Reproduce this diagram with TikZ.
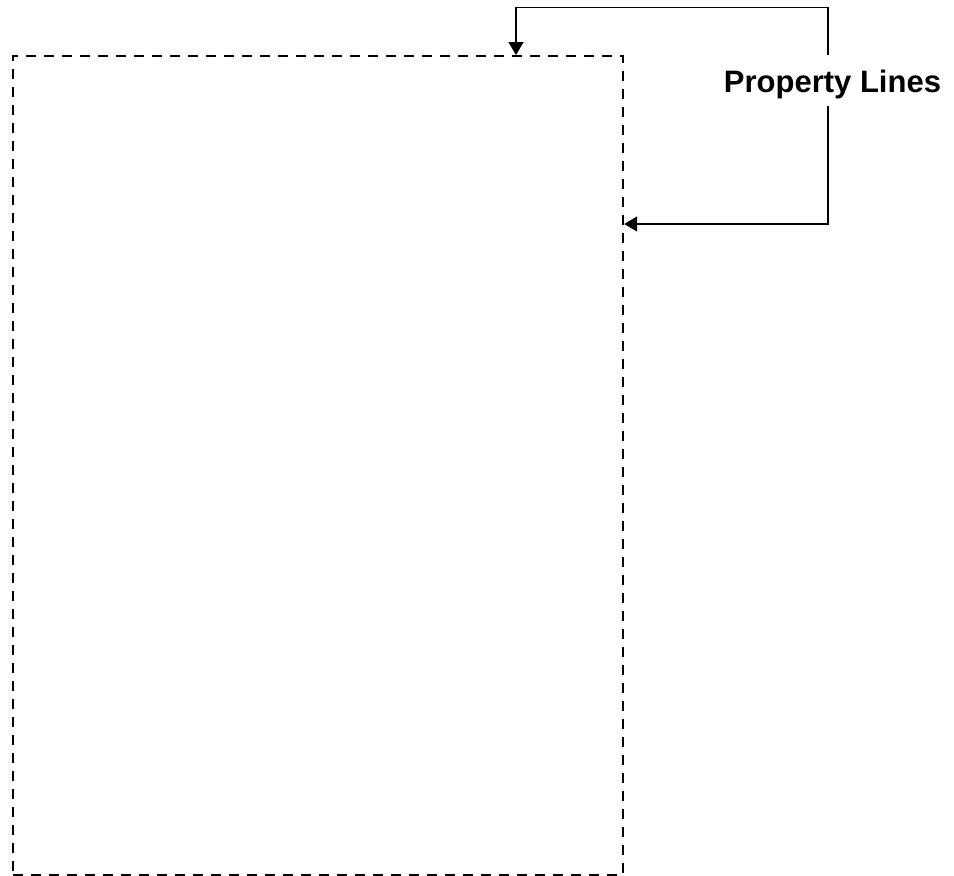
\documentclass[tikz,border=0pt]{standalone}
\usepackage{fontspec}
\setmainfont{Liberation Sans}
\usetikzlibrary{arrows.meta}
\begin{document}
\begin{tikzpicture}[x=1pt,y=-1pt,
  propline/.style={draw=black,line width=2.2pt,dash pattern=on 10pt off 8pt},
  leader/.style={draw=black,line width=1.5pt},
  leadarrow/.style={leader,-{Triangle[length=13pt,width=15pt]}},
  lbl/.style={font=\bfseries\fontsize{31}{36}\selectfont,inner sep=0pt}]
\useasboundingbox (0,0) rectangle (954,876);
\fill[white] (0,0) rectangle (954,876);
\node[propline,rectangle,minimum width=610pt,minimum height=819pt,inner sep=0pt,anchor=north west] (lot) at (12,55) {};
\node[lbl,anchor=base] (label) at (832.5,92) {Property Lines};
\coordinate (ctop) at (828,7.5);
\coordinate (ltop) at (516,7.5);
\coordinate (gapA) at (828,55);
\coordinate (gapB) at (828,106);
\coordinate (cbot) at (828,224);
\draw[leadarrow] (gapA) -- (ctop) -- (ltop) -- (ltop |- lot.north);
\draw[leadarrow] (gapB) -- (cbot) -- (cbot -| lot.east);
\end{tikzpicture}
\end{document}
